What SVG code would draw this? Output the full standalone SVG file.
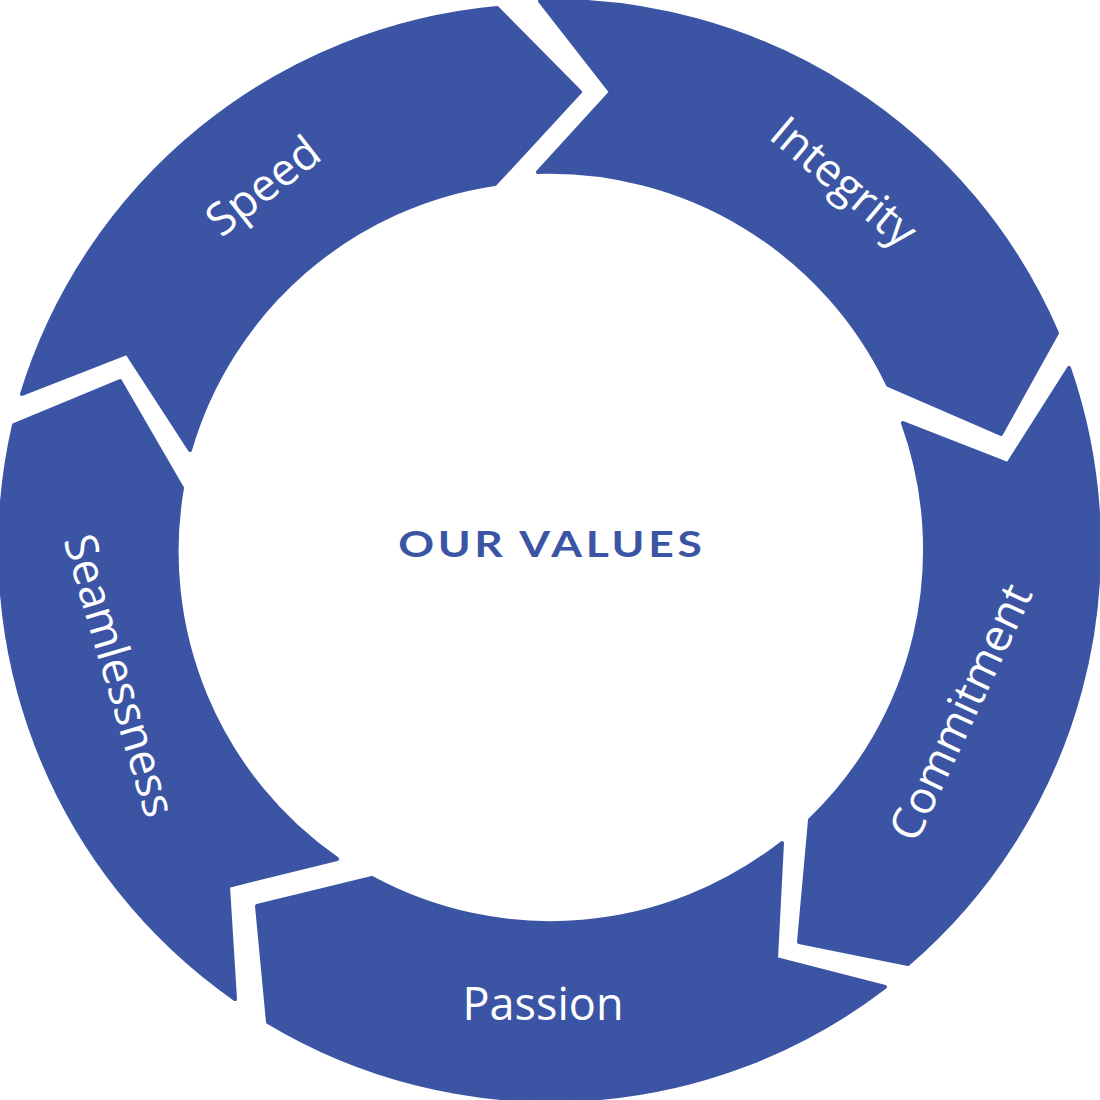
<svg xmlns="http://www.w3.org/2000/svg" width="1100" height="1100" viewBox="0 0 1100 1100">
  <style>
    .seg { fill: #3B55A4; stroke: #3B55A4; stroke-width: 4; stroke-linejoin: round; }
    .lbl { fill: #FFFFFF; font-family: "Open Sans", "Noto Sans", sans-serif; font-size: 45px; font-weight: 400; text-anchor: middle; }
    .title { fill: #3B55A4; font-family: "Lato", "Open Sans", sans-serif; font-size: 37px; font-weight: 700; text-anchor: middle; }
  </style>
  <rect width="1100" height="1100" fill="#FFFFFF"/>
  <g id="node-speed">
    <path class="seg" d="M22,394 L127,353 L190,450 A375,375 0 0 1 495,184 L580,92 L497,8 A550,550 0 0 0 22,394 Z"/>
    <text class="lbl" transform="translate(264,187) rotate(-38)" y="14">Speed</text>
  </g>
  <g id="node-integrity">
    <path class="seg" d="M540,1 L611,92 L538,172 A375,375 0 0 1 888,385 L1001,434 L1057,333 A550,550 0 0 0 540,1 Z"/>
    <text class="lbl" transform="translate(843,183) rotate(40)" y="14">Integrity</text>
  </g>
  <g id="node-commitment">
    <path class="seg" d="M1069,368 L1008,464 L903,423 A375,375 0 0 1 810,820 L799,942 L908,964 A550,550 0 0 0 1069,368 Z"/>
    <text class="lbl" transform="translate(962,713) rotate(-65)" y="14">Commitment</text>
  </g>
  <g id="node-passion">
    <path class="seg" d="M885,987 L776,959 L782,843 A375,375 0 0 1 372,878 L257,906 L268,1022 A550,550 0 0 0 885,987 Z"/>
    <text class="lbl" x="543" y="1020">Passion</text>
  </g>
  <g id="node-seamlessness">
    <path class="seg" d="M235,999 L228,886 L337,859 A375,375 0 0 1 182,488 L120,381 L14,425 A550,550 0 0 0 235,999 Z"/>
    <text class="lbl" transform="translate(118,676) rotate(73.5)" y="14">Seamlessness</text>
  </g>
  <g id="node-center">
    <text class="title" transform="translate(550,557) scale(1.2,1)" x="0" y="0" textLength="253" lengthAdjust="spacing">OUR VALUES</text>
  </g>
  <g id="connectors"/>
</svg>
